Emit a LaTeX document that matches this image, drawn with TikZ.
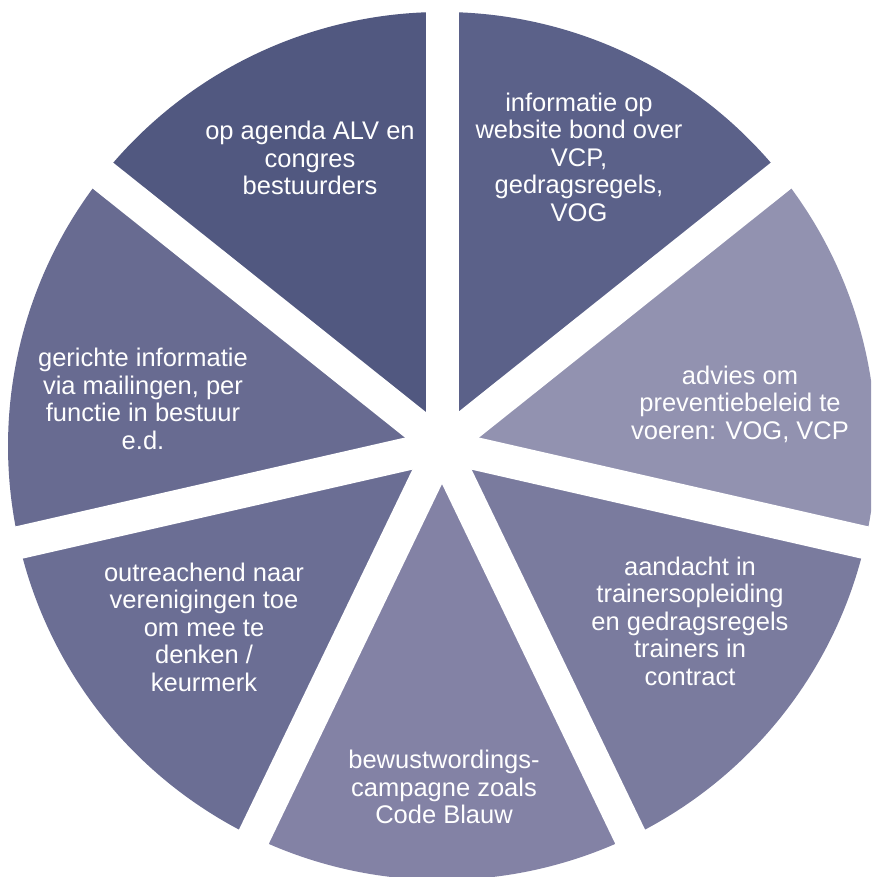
\documentclass[tikz,border=0pt]{standalone}
\usepackage{fontspec}
\setmainfont{Liberation Sans}
\definecolor{cAgenda}{HTML}{515880}
\definecolor{cInfo}{HTML}{5B6189}
\definecolor{cAdvies}{HTML}{9292B0}
\definecolor{cAandacht}{HTML}{7A7B9E}
\definecolor{cBewust}{HTML}{8382A5}
\definecolor{cOutreach}{HTML}{6B6E94}
\definecolor{cGericht}{HTML}{686B91}
\begin{document}
\begin{tikzpicture}[x=1pt,y=1pt,
  gapline/.style={draw=white,line width=33pt},
  lbl/.style={text=white,align=center,inner sep=0pt,
    font=\fontsize{25.5}{27.5}\selectfont}]
\useasboundingbox (0,0) rectangle (871,-877);
\clip (0,0) rectangle (871,-877);
\fill[white] (0,0) rectangle (871,-877);
\coordinate (C) at (442,-446);
\def\R{434}
% slices
\fill[cInfo]     (C) -- ++(38.571:\R)   arc[start angle=38.571,  end angle=90,      radius=\R] -- cycle;
\fill[cAdvies]   (C) -- ++(-12.857:\R)  arc[start angle=-12.857, end angle=38.571,  radius=\R] -- cycle;
\fill[cAandacht] (C) -- ++(-64.286:\R)  arc[start angle=-64.286, end angle=-12.857, radius=\R] -- cycle;
\fill[cBewust]   (C) -- ++(-115.714:\R) arc[start angle=-115.714,end angle=-64.286, radius=\R] -- cycle;
\fill[cOutreach] (C) -- ++(-167.143:\R) arc[start angle=-167.143,end angle=-115.714,radius=\R] -- cycle;
\fill[cGericht]  (C) -- ++(141.429:\R)  arc[start angle=141.429, end angle=192.857, radius=\R] -- cycle;
\fill[cAgenda]   (C) -- ++(90:\R)       arc[start angle=90,      end angle=141.429, radius=\R] -- cycle;
% white gaps
\foreach \a in {90,38.571,-12.857,-64.286,-115.714,-167.143,141.429}
  \draw[gapline] (C) -- ++(\a:470);
% labels
\node[lbl] (agenda)   at (310,-158) {op agenda ALV en\\congres\\bestuurders};
\node[lbl] (info)     at (579,-157) {informatie op\\website bond over\\VCP,\\gedragsregels,\\VOG};
\node[lbl] (advies)   at (740,-404) {advies om\\preventiebeleid te\\voeren: VOG, VCP};
\node[lbl] (aandacht) at (690,-621) {aandacht in\\trainersopleiding\\en gedragsregels\\trainers in\\contract};
\node[lbl] (bewust)   at (444,-787) {bewustwordings-\\campagne zoals\\Code Blauw};
\node[lbl] (outreach) at (204,-627) {outreachend naar\\verenigingen toe\\om mee te\\denken /\\keurmerk};
\node[lbl] (gericht)  at (143,-399) {gerichte informatie\\via mailingen, per\\functie in bestuur\\e.d.};
\end{tikzpicture}
\end{document}
